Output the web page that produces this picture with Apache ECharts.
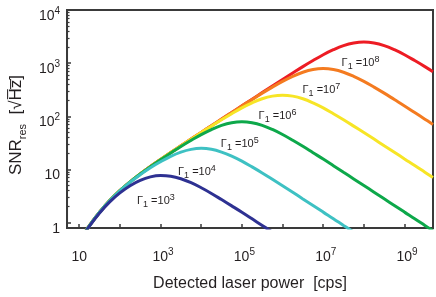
<!DOCTYPE html>
<html>
<head>
<meta charset="utf-8">
<script src="https://cdn.jsdelivr.net/npm/echarts@6/dist/echarts.min.js"></script>
<style>
html,body{margin:0;padding:0;background:#fff;}
#chart{width:436px;height:297px;}
</style>
</head>
<body>
<div id="chart"></div>
<script>
// Detected laser power [cps] sample positions (quarter-decade steps)
const powerCps = [1e1, 1.78e1, 3.16e1, 5.62e1, 1e2, 1.78e2, 3.16e2, 5.62e2, 1e3, 1.78e3, 3.16e3, 5.62e3,
  1e4, 1.78e4, 3.16e4, 5.62e4, 1e5, 1.78e5, 3.16e5, 5.62e5, 1e6, 1.78e6, 3.16e6, 5.62e6,
  1e7, 1.78e7, 3.16e7, 5.62e7, 1e8, 1.78e8, 3.16e8, 5.62e8, 1e9, 1.78e9, 3.16e9, 5.0e9];

// SNR_res values, one list per Γ1
const snrG1e3 = [0.448, 0.861, 1.52, 2.46, 3.64, 4.97, 6.26, 7.27, 7.72, 7.48, 6.70, 5.64, 4.54, 3.55, 2.72, 2.07, 1.57, 1.18, 0.886, 0.666];
const snrG1e4 = [0.452, 0.874, 1.57, 2.58, 3.96, 5.75, 7.99, 10.8, 14.0, 17.7, 21.2, 23.9, 25.0, 24.0, 21.3, 17.9, 14.4, 11.2, 8.62, 6.55, 4.95, 3.73, 2.80, 2.11, 1.58, 1.19, 0.889, 0.667];
const snrG1e5 = [0.452, 0.876, 1.57, 2.60, 4.00, 5.84, 8.21, 11.3, 15.3, 20.4, 27.1, 35.3, 45.4, 56.5, 67.5, 75.9, 79.1, 75.9, 67.6, 56.6, 45.5, 35.5, 27.3, 20.7, 15.7, 11.8, 8.86, 6.66, 5.00, 3.75, 2.81, 2.11, 1.58, 1.19, 0.889, 0.706];
const snrG1e6 = [0.452, 0.876, 1.57, 2.60, 4.00, 5.85, 8.24, 11.3, 15.4, 20.8, 27.8, 37.1, 49.4, 65.4, 86.1, 112, 144, 179, 214, 240, 250, 240, 214, 179, 144, 112, 86.2, 65.5, 49.5, 37.3, 28.0, 21.1, 15.8, 11.9, 8.89, 7.06];
const snrG1e7 = [0.452, 0.876, 1.57, 2.60, 4.00, 5.85, 8.24, 11.4, 15.4, 20.8, 27.9, 37.3, 49.9, 66.5, 88.5, 118, 157, 207, 273, 355, 455, 566, 675, 759, 791, 759, 676, 566, 455, 355, 273, 207, 157, 118, 88.6, 70.5];
const snrG1e8 = [0.452, 0.876, 1.57, 2.60, 4.00, 5.85, 8.24, 11.4, 15.4, 20.8, 27.9, 37.3, 49.9, 66.6, 88.8, 118, 158, 210, 280, 373, 495, 655, 862, 1120, 1440, 1790, 2140, 2400, 2500, 2400, 2140, 1790, 1440, 1120, 862, 692];

const gammaExp = ['3', '4', '5', '6', '7', '8'];
const seriesValues = [snrG1e3, snrG1e4, snrG1e5, snrG1e6, snrG1e7, snrG1e8];
const seriesColors = ['#2E3192', '#3EC1C3', '#0DA84A', '#F7E526', '#F47B20', '#ED1C24'];

// Where each Γ1 annotation sits (data coordinates)
const labelPower = [9.1e2, 9.3e3, 1.05e5, 8.9e5, 1.07e7, 9.8e7];
const labelSnr = [2.94, 10.4, 33.7, 114, 357, 1160];

// y minor tick values
const yMinorTicks = [];
[1, 10, 100, 1000].forEach(d => { for (let k = 2; k <= 9; k++) yMinorTicks.push(d * k); });

const FONT = 'Liberation Sans, Arial, Helvetica, sans-serif';
const TXT = '#231F20';
const AX = '#3A3A3A';

function expOf(v) {
  const e = Math.log10(v);
  const r = Math.round(e);
  return Math.abs(e - r) < 1e-6 ? r : null;
}

const tickRich = {
  b: { fontSize: 14, fontFamily: FONT, color: TXT, lineHeight: 20, verticalAlign: 'middle' },
  sup: { fontSize: 10, fontFamily: FONT, color: TXT, verticalAlign: 'top', lineHeight: 11 },
  pad: { width: 5, lineHeight: 20 }
};

const annRich = {
  g: { fontSize: 11, fontFamily: FONT, color: TXT, lineHeight: 16, verticalAlign: 'middle' },
  sub: { fontSize: 9, fontFamily: FONT, color: TXT, verticalAlign: 'bottom', lineHeight: 10 },
  sup: { fontSize: 9, fontFamily: FONT, color: TXT, verticalAlign: 'top', lineHeight: 10 }
};

const series = [];
for (let s = seriesValues.length - 1; s >= 0; s--) {
  const vals = seriesValues[s];
  series.push({
    type: 'line',
    name: 'Γ1=10^' + gammaExp[s],
    data: vals.map((v, i) => [powerCps[i], v]),
    smooth: 0.4,
    showSymbol: false,
    symbol: 'none',
    clip: true,
    lineStyle: { color: seriesColors[s], width: 3 },
    itemStyle: { color: seriesColors[s] },
    z: 10 + (seriesValues.length - s),
    markPoint: {
      symbol: 'rect',
      symbolSize: 0,
      silent: true,
      label: {
        show: true,
        position: 'inside',
        offset: [-3, 3],
        formatter: '{g|Γ}{sub|1}{g| =10}{sup|' + gammaExp[s] + '}',
        rich: annRich
      },
      data: [{ coord: [labelPower[s], labelSnr[s]] }]
    }
  });
}

const chart = echarts.init(document.getElementById('chart'), null, { renderer: 'canvas' });
chart.setOption({
  animation: false,
  backgroundColor: '#fff',
  grid: {
    left: 57, right: 3, top: 10, bottom: 55,
    show: true, borderColor: AX, borderWidth: 2, backgroundColor: 'transparent'
  },
  xAxis: {
    type: 'log',
    logBase: 10,
    min: Math.pow(10, 0.7),
    max: Math.pow(10, 9.7),
    axisLine: { show: true, onZero: false, lineStyle: { color: AX, width: 2 } },
    axisTick: { show: true, inside: true, length: 4, lineStyle: { color: AX, width: 1.5 } },
    splitLine: { show: false },
    axisLabel: {
      margin: 19,
      showMinLabel: false,
      showMaxLabel: false,
      formatter: function (v) {
        const e = expOf(v);
        if (e === null || e % 2 === 0) return '';
        if (e === 1) return '{b|10}';
        return '{pad|}{b|10}{sup|' + e + '}';
      },
      rich: tickRich
    },
    name: 'Detected laser power  [cps]',
    nameLocation: 'middle',
    nameGap: 48,
    nameTextStyle: { fontSize: 16, fontFamily: FONT, color: TXT }
  },
  yAxis: [{
    type: 'log',
    logBase: 10,
    min: Math.pow(10, -0.1),
    max: 1e4,
    position: 'left',
    axisLine: { show: true, lineStyle: { color: AX, width: 2 } },
    axisTick: { show: true, inside: true, length: 4, lineStyle: { color: AX, width: 1.5 } },
    splitLine: { show: false },
    axisLabel: {
      margin: 7,
      showMinLabel: false,
      padding: [12, 0, 0, 0],
      formatter: function (v) {
        const e = expOf(v);
        if (e === null) return '';
        if (e === 0) return '{b|1}';
        if (e === 1) return '{b|10}';
        return '{b|10}{sup|' + e + '}';
      },
      rich: tickRich
    },
    name: '{m|SNR}{s|res}{m|  [√}{m|H\u0305z\u0305}{m|]}',
    nameLocation: 'middle',
    nameRotate: 90,
    nameGap: 33,
    nameTextStyle: {
      padding: [0, 12, 0, 0],
      rich: {
        m: { fontSize: 17, fontFamily: FONT, color: TXT, lineHeight: 20, verticalAlign: 'top' },
        s: { fontSize: 11, fontFamily: FONT, color: TXT, lineHeight: 12, verticalAlign: 'bottom' }
      }
    }
  }, {
    type: 'value',
    min: -0.1,
    max: 4,
    position: 'left',
    offset: 0,
    axisLine: { show: false, onZero: false },
    axisLabel: { show: false },
    splitLine: { show: false },
    axisTick: {
      show: true, inside: true, length: 2.5,
      lineStyle: { color: AX, width: 1.2 },
      customValues: yMinorTicks.map(v => Math.log10(v))
    }
  }],
  series: series
});
</script>
</body>
</html>
